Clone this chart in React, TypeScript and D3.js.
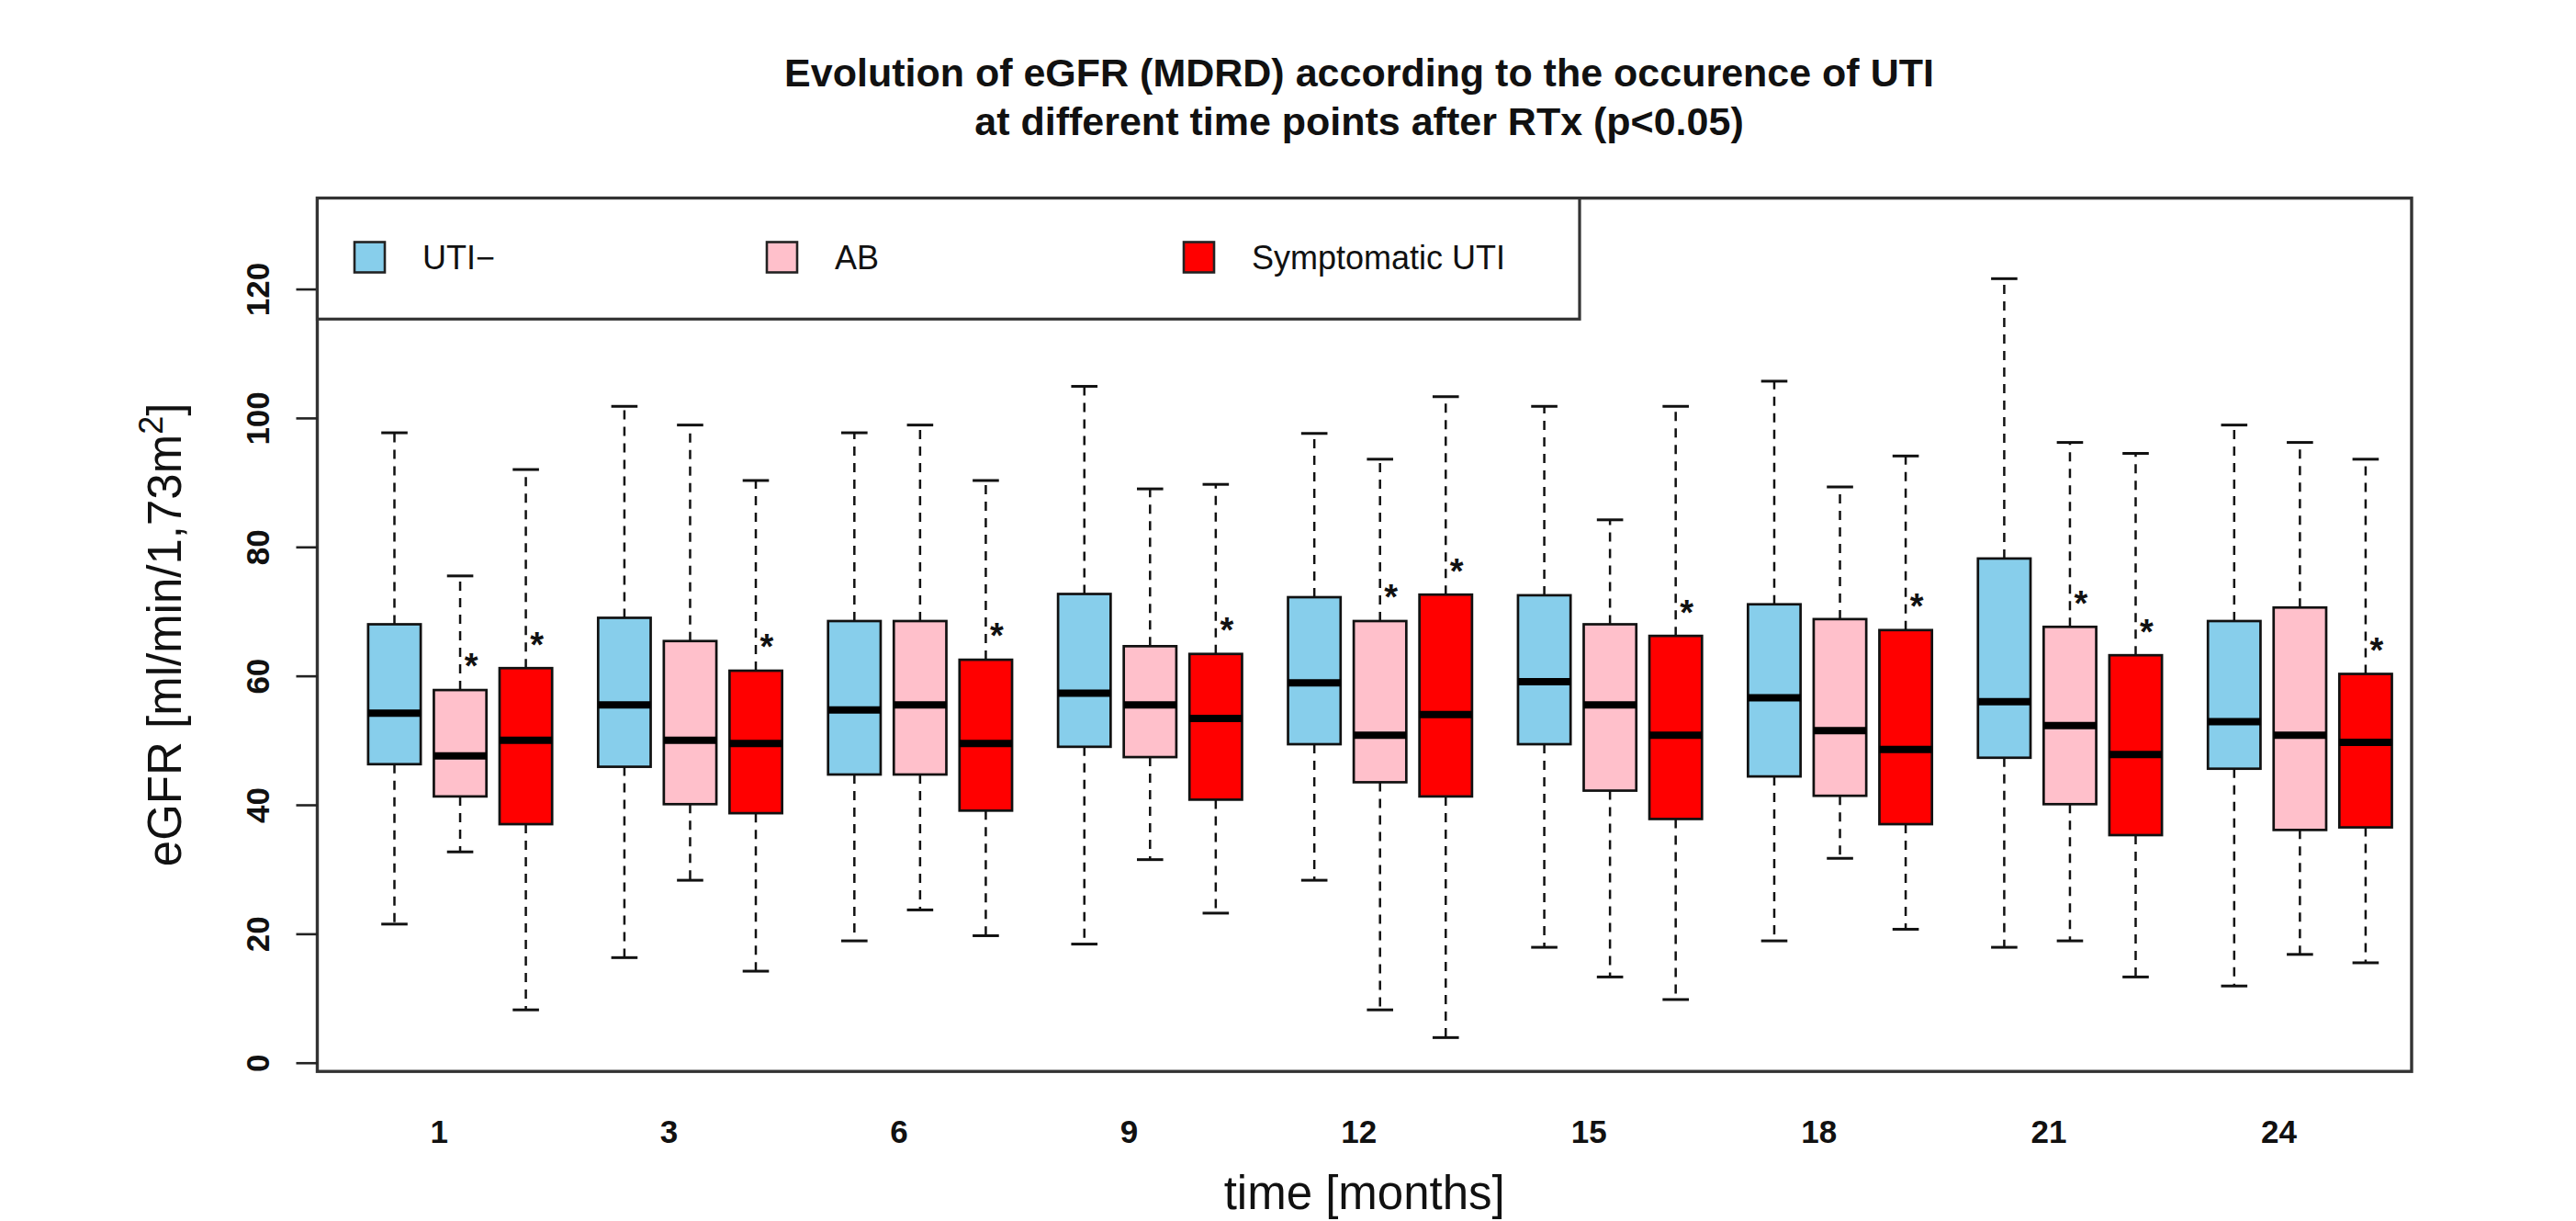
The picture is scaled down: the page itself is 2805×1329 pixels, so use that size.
import React, { useEffect, useRef } from "react";
import * as d3 from "d3";

// ---- data ----
const months = ["1", "3", "6", "9", "12", "15", "18", "21", "24"];
const seriesNames = ["UTI−", "AB", "Symptomatic UTI"];
const seriesColors = ["#87CEEB", "#FFC0CB", "#FF0000"];

const utiLow = [21.5, 16.3, 18.9, 18.4, 28.3, 17.9, 18.9, 17.9, 11.9];
const utiQ1 = [46.3, 45.9, 44.7, 49.0, 49.4, 49.4, 44.4, 47.3, 45.6];
const utiMed = [54.2, 55.5, 54.7, 57.3, 58.9, 59.1, 56.6, 56.0, 52.9];
const utiQ3 = [68.0, 69.0, 68.5, 72.7, 72.2, 72.5, 71.1, 78.2, 68.5];
const utiHigh = [97.7, 101.8, 97.7, 104.9, 97.6, 101.8, 105.7, 121.6, 98.9];

const abLow = [32.7, 28.3, 23.7, 31.5, 8.2, 13.3, 31.7, 18.9, 16.8];
const abQ1 = [41.3, 40.1, 44.7, 47.4, 43.5, 42.2, 41.4, 40.1, 36.1];
const abMed = [47.6, 50.0, 55.5, 55.5, 50.8, 55.5, 51.5, 52.3, 50.8];
const abQ3 = [57.8, 65.4, 68.5, 64.6, 68.5, 68.0, 68.8, 67.6, 70.6];
const abHigh = [75.5, 98.9, 98.9, 89.0, 93.6, 84.2, 89.3, 96.2, 96.2];

const symLow = [8.2, 14.2, 19.7, 23.2, 3.9, 9.8, 20.7, 13.3, 15.5];
const symQ1 = [37.0, 38.7, 39.1, 40.8, 41.3, 37.8, 37.0, 35.3, 36.5];
const symMed = [50.0, 49.5, 49.5, 53.4, 54.0, 50.8, 48.6, 47.8, 49.7];
const symQ3 = [61.2, 60.8, 62.5, 63.4, 72.6, 66.2, 67.1, 63.2, 60.3];
const symHigh = [92.0, 90.3, 90.3, 89.7, 103.3, 101.8, 94.1, 94.5, 93.6];

const utiStar = [0, 0, 0, 0, 0, 0, 0, 0, 0];
const abStar = [1, 0, 0, 0, 1, 0, 0, 1, 0];
const symStar = [1, 1, 1, 1, 1, 1, 1, 1, 1];

const yTicks = [0, 20, 40, 60, 80, 100, 120];

const titleLines = [
  "Evolution of eGFR (MDRD) according to the occurence of UTI",
  "at different time points after RTx (p<0.05)",
];

const W = 2805;
const H = 1329;
const FONT = "'Liberation Sans', Arial, Helvetica, sans-serif";

export default function App() {
  const ref = useRef<SVGSVGElement | null>(null);

  useEffect(() => {
    document.body.style.margin = "0";
    const svg = d3.select(ref.current);
    svg.selectAll("*").remove();

    const left = 345.5, right = 2626, top = 215.6, bottom = 1166.2;

    const x = d3.scaleLinear().domain([-0.174, 31.7]).range([left, right]);
    const y = d3.scaleLinear().domain([-1.35, 134.1]).range([bottom, top]);

    const series = [
      { low: utiLow, q1: utiQ1, med: utiMed, q3: utiQ3, high: utiHigh, star: utiStar },
      { low: abLow, q1: abQ1, med: abMed, q3: abQ3, high: abHigh, star: abStar },
      { low: symLow, q1: symQ1, med: symMed, q3: symQ3, high: symHigh, star: symStar },
    ];

    const boxW = x(0.8) - x(0);
    const capW = x(0.4) - x(0);

    const items: any[] = [];
    months.forEach((m, g) => {
      series.forEach((s, i) => {
        items.push({
          p: 1 + 3.5 * g + i,
          low: s.low[g], q1: s.q1[g], med: s.med[g], q3: s.q3[g], high: s.high[g],
          star: s.star[g], color: seriesColors[i],
        });
      });
    });

    const gBox = svg.append("g");
    const bx = gBox.selectAll("g.bx").data(items).enter().append("g").attr("class", "bx");

    // whiskers (dashed)
    bx.append("line")
      .attr("x1", (d) => x(d.p)).attr("x2", (d) => x(d.p))
      .attr("y1", (d) => y(d.q3)).attr("y2", (d) => y(d.high))
      .attr("stroke", "#111").attr("stroke-width", 2.5).attr("stroke-dasharray", "10,8");
    bx.append("line")
      .attr("x1", (d) => x(d.p)).attr("x2", (d) => x(d.p))
      .attr("y1", (d) => y(d.q1)).attr("y2", (d) => y(d.low))
      .attr("stroke", "#111").attr("stroke-width", 2.5).attr("stroke-dasharray", "10,8");
    // caps
    bx.append("line")
      .attr("x1", (d) => x(d.p) - capW / 2).attr("x2", (d) => x(d.p) + capW / 2)
      .attr("y1", (d) => y(d.high)).attr("y2", (d) => y(d.high))
      .attr("stroke", "#111").attr("stroke-width", 3);
    bx.append("line")
      .attr("x1", (d) => x(d.p) - capW / 2).attr("x2", (d) => x(d.p) + capW / 2)
      .attr("y1", (d) => y(d.low)).attr("y2", (d) => y(d.low))
      .attr("stroke", "#111").attr("stroke-width", 3);
    // box
    bx.append("rect")
      .attr("x", (d) => x(d.p) - boxW / 2)
      .attr("width", boxW)
      .attr("y", (d) => y(d.q3))
      .attr("height", (d) => y(d.q1) - y(d.q3))
      .attr("fill", (d) => d.color)
      .attr("stroke", "#111").attr("stroke-width", 2.7);
    // median
    bx.append("line")
      .attr("x1", (d) => x(d.p) - boxW / 2).attr("x2", (d) => x(d.p) + boxW / 2)
      .attr("y1", (d) => y(d.med)).attr("y2", (d) => y(d.med))
      .attr("stroke", "#000").attr("stroke-width", 8);
    // stars
    bx.filter((d) => d.star === 1).append("text")
      .attr("x", (d) => x(d.p) + 12)
      .attr("y", (d) => y(d.q3) - 12.6)
      .attr("text-anchor", "middle")
      .attr("font-family", FONT).attr("font-size", 38).attr("font-weight", "bold").attr("fill", "#111")
      .text("*");

    // frame
    svg.append("rect")
      .attr("x", left).attr("y", top).attr("width", right - left).attr("height", bottom - top)
      .attr("fill", "none").attr("stroke", "#333").attr("stroke-width", 3.4);

    // y axis
    const yAxis = d3.axisLeft(y).tickValues(yTicks).tickSize(23).tickFormat(d3.format("d"));
    const ga = svg.append("g").attr("transform", `translate(${left},0)`).call(yAxis);
    ga.select(".domain").remove();
    ga.selectAll(".tick line").attr("stroke", "#222").attr("stroke-width", 2.6);
    ga.selectAll(".tick text")
      .attr("transform", "rotate(-90)")
      .attr("x", 0).attr("y", -52.5).attr("dy", null)
      .attr("text-anchor", "middle")
      .attr("font-family", FONT).attr("font-size", 35).attr("font-weight", "bold")
      .attr("fill", "#111");

    // x labels
    svg.append("g").selectAll("text").data(months).enter().append("text")
      .attr("x", (d, g) => x(1.68 + 3.5 * g))
      .attr("y", 1244)
      .attr("text-anchor", "middle")
      .attr("font-family", FONT).attr("font-size", 35).attr("font-weight", "bold")
      .attr("fill", "#111")
      .text((d) => d);

    // legend
    const lg = svg.append("g");
    lg.append("rect")
      .attr("x", left).attr("y", top).attr("width", 1720 - left).attr("height", 347.3 - top)
      .attr("fill", "white").attr("stroke", "#333").attr("stroke-width", 3.2);
    const legX = [386, 835, 1289];
    seriesNames.forEach((n, i) => {
      lg.append("rect")
        .attr("x", legX[i]).attr("y", 263.5).attr("width", 33).attr("height", 33)
        .attr("fill", seriesColors[i]).attr("stroke", "#222").attr("stroke-width", 2.6);
      lg.append("text")
        .attr("x", legX[i] + 74).attr("y", 293)
        .attr("font-family", FONT).attr("font-size", 36).attr("fill", "#111")
        .text(n);
    });

    // titles
    titleLines.forEach((t, i) => {
      svg.append("text")
        .attr("x", 1480).attr("y", 94 + i * 53)
        .attr("text-anchor", "middle")
        .attr("font-family", FONT).attr("font-size", 43).attr("font-weight", "bold")
        .attr("fill", "#111")
        .text(t);
    });

    // x axis title
    svg.append("text")
      .attr("x", (left + right) / 2).attr("y", 1316)
      .attr("text-anchor", "middle")
      .attr("font-family", FONT).attr("font-size", 51).attr("fill", "#111")
      .text("time [months]");

    // y axis title
    const yt = svg.append("text")
      .attr("transform", `translate(197,${(top + bottom) / 2}) rotate(-90)`)
      .attr("text-anchor", "middle")
      .attr("font-family", FONT).attr("font-size", 51).attr("fill", "#111");
    yt.append("tspan").text("eGFR [ml/min/1,73m");
    yt.append("tspan").attr("font-size", 36).attr("dy", -20).text("2");
    yt.append("tspan").attr("dy", 20).text("]");
  }, []);

  return <svg ref={ref} width={W} height={H} style={{ display: "block", background: "white" }} />;
}
